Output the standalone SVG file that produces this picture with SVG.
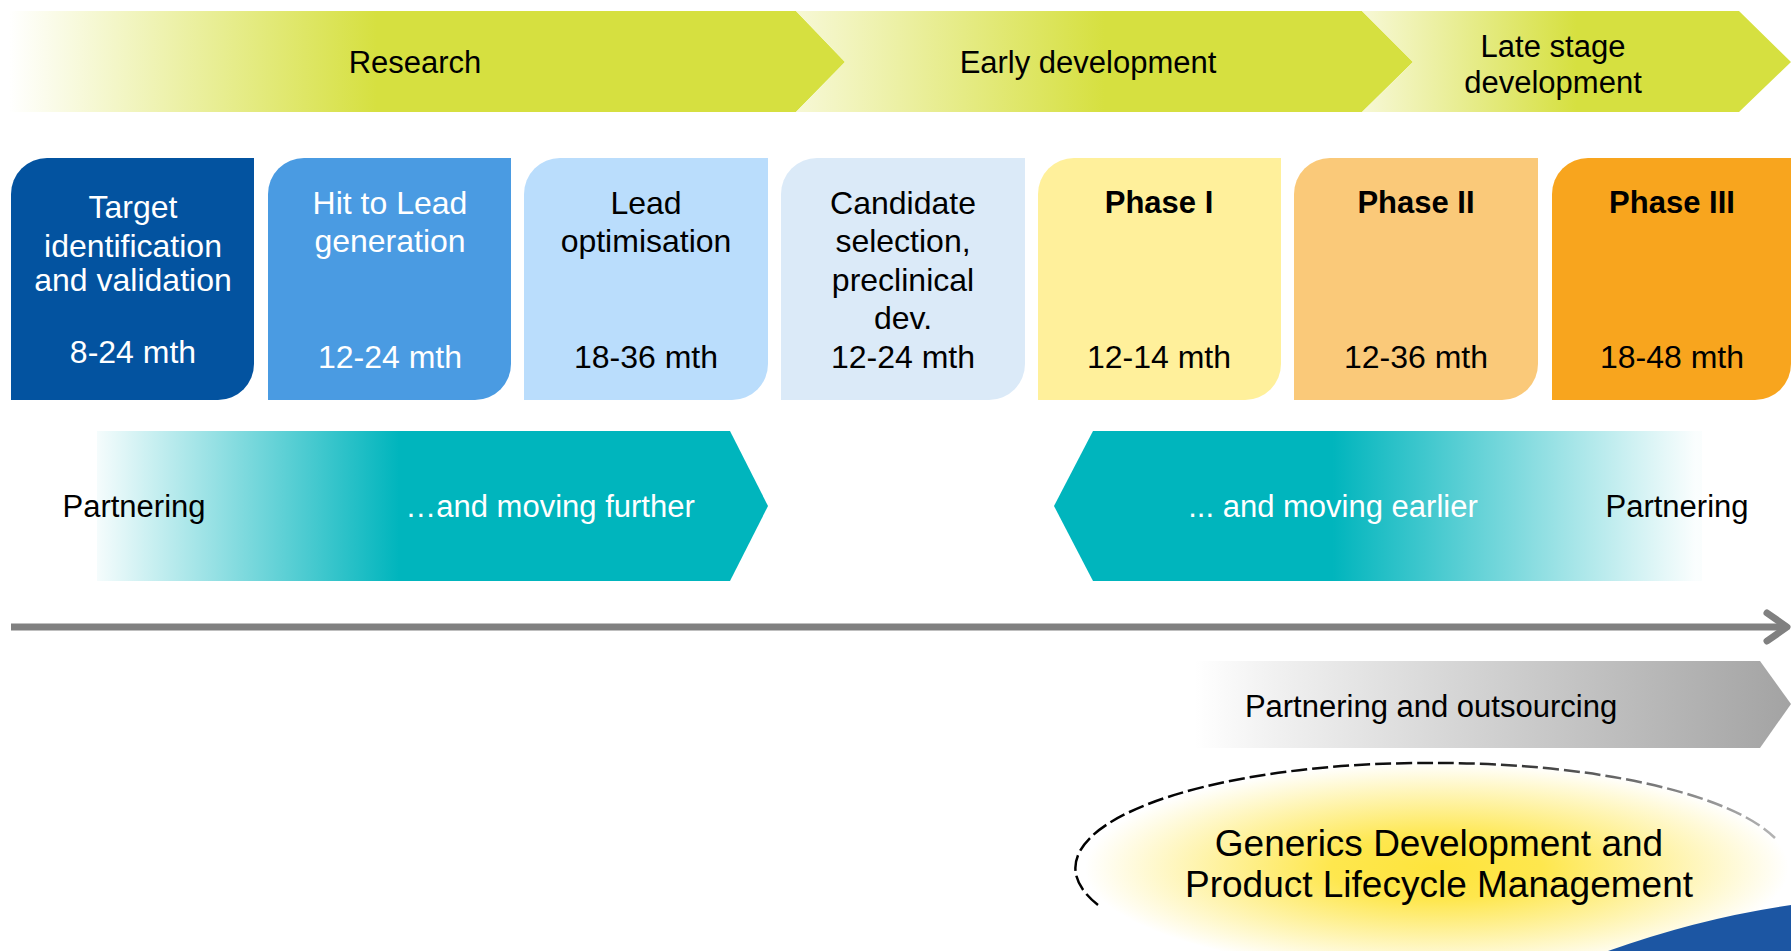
<svg xmlns="http://www.w3.org/2000/svg" width="1791" height="951" viewBox="0 0 1791 951">
<style>
text{font-family:"Liberation Sans",Arial,sans-serif;text-anchor:middle}
.t31{font-size:31px}
.b32{font-size:32px}
.bold{font-weight:bold}
.w{fill:#fff}
.k{fill:#000}
</style>
<defs>
<linearGradient id="gRes" gradientUnits="userSpaceOnUse" x1="9" y1="0" x2="845" y2="0">
<stop offset="0" stop-color="#ffffff"/><stop offset="0.44" stop-color="#D6E040"/><stop offset="1" stop-color="#D6E040"/>
</linearGradient>
<linearGradient id="gEarly" gradientUnits="userSpaceOnUse" x1="796" y1="0" x2="1413" y2="0">
<stop offset="0" stop-color="#F7F8D6"/><stop offset="0.5" stop-color="#D6E040"/><stop offset="1" stop-color="#D6E040"/>
</linearGradient>
<linearGradient id="gLate" gradientUnits="userSpaceOnUse" x1="1362" y1="0" x2="1791" y2="0">
<stop offset="0" stop-color="#F7F8D6"/><stop offset="0.5" stop-color="#D6E040"/><stop offset="1" stop-color="#D6E040"/>
</linearGradient>
<linearGradient id="gTealL" gradientUnits="userSpaceOnUse" x1="97" y1="0" x2="768" y2="0">
<stop offset="0" stop-color="#00B5BD" stop-opacity="0.04"/><stop offset="0.45" stop-color="#00B5BD"/><stop offset="1" stop-color="#00B5BD"/>
</linearGradient>
<linearGradient id="gTealR" gradientUnits="userSpaceOnUse" x1="1054" y1="0" x2="1702" y2="0">
<stop offset="0" stop-color="#00B5BD"/><stop offset="0.43" stop-color="#00B5BD"/><stop offset="0.99" stop-color="#00B5BD" stop-opacity="0.02"/>
</linearGradient>
<linearGradient id="gGray" gradientUnits="userSpaceOnUse" x1="1195" y1="0" x2="1791" y2="0">
<stop offset="0" stop-color="#ffffff"/><stop offset="0.12" stop-color="#F2F2F2"/><stop offset="1" stop-color="#A3A3A3"/>
</linearGradient>
<radialGradient id="gEll" gradientUnits="userSpaceOnUse" cx="1437" cy="868" r="352" gradientTransform="translate(1437 868) scale(1 0.3) translate(-1437 -868)">
<stop offset="0" stop-color="#FEE43C"/><stop offset="0.3" stop-color="#FEE74E"/><stop offset="1" stop-color="#ffffff"/>
</radialGradient>
<linearGradient id="gEllStroke" gradientUnits="userSpaceOnUse" x1="1085" y1="0" x2="1791" y2="0">
<stop offset="0" stop-color="#000"/><stop offset="0.5" stop-color="#111"/><stop offset="1" stop-color="#bbb"/>
</linearGradient>
</defs>

<g id="research">
<polygon points="9,11 796,11 845,62 796,112 9,112" fill="url(#gRes)"/>
<text class="t31 k" x="415" y="73">Research</text>
</g>
<g id="early-development">
<polygon points="796,11 1362,11 1413,62 1362,112 796,112 845,62" fill="url(#gEarly)"/>
<text class="t31 k" x="1088" y="73">Early development</text>
</g>
<g id="late-development">
<polygon points="1362,11 1739,11 1791,62 1739,112 1362,112 1413,62" fill="url(#gLate)"/>
<text class="t31 k" x="1553" y="57">Late stage</text>
<text class="t31 k" x="1553" y="93">development</text>
</g>

<g id="target">
<path d="M11,194 A36,36 0 0 1 47,158 H254 V364 A36,36 0 0 1 218,400 H11 Z" fill="#0353A0"/>
<text class="b32 w" x="133" y="218">Target</text>
<text class="b32 w" x="133" y="257">identification</text>
<text class="b32 w" x="133" y="291">and validation</text>
<text class="b32 w" x="133" y="363">8-24 mth</text>
</g>
<g id="hit-to-lead">
<path d="M268,194 A36,36 0 0 1 304,158 H511 V364 A36,36 0 0 1 475,400 H268 Z" fill="#4A9BE2"/>
<text class="b32 w" x="390" y="214">Hit to Lead</text>
<text class="b32 w" x="390" y="252">generation</text>
<text class="b32 w" x="390" y="368">12-24 mth</text>
</g>
<g id="lead-optimisation">
<path d="M524,194 A36,36 0 0 1 560,158 H768 V364 A36,36 0 0 1 732,400 H524 Z" fill="#BADDFC"/>
<text class="b32 k" x="646" y="214">Lead</text>
<text class="b32 k" x="646" y="252">optimisation</text>
<text class="b32 k" x="646" y="368">18-36 mth</text>
</g>
<g id="candidate-selection">
<path d="M781,194 A36,36 0 0 1 817,158 H1025 V364 A36,36 0 0 1 989,400 H781 Z" fill="#DBEAF8"/>
<text class="b32 k" x="903" y="214">Candidate</text>
<text class="b32 k" x="903" y="252">selection,</text>
<text class="b32 k" x="903" y="291">preclinical</text>
<text class="b32 k" x="903" y="329">dev.</text>
<text class="b32 k" x="903" y="368">12-24 mth</text>
</g>
<g id="phase-1">
<path d="M1038,194 A36,36 0 0 1 1074,158 H1281 V364 A36,36 0 0 1 1245,400 H1038 Z" fill="#FFF09B"/>
<text class="t31 k bold" x="1159" y="213">Phase I</text>
<text class="b32 k" x="1159" y="368">12-14 mth</text>
</g>
<g id="phase-2">
<path d="M1294,194 A36,36 0 0 1 1330,158 H1538 V364 A36,36 0 0 1 1502,400 H1294 Z" fill="#FAC979"/>
<text class="t31 k bold" x="1416" y="213">Phase II</text>
<text class="b32 k" x="1416" y="368">12-36 mth</text>
</g>
<g id="phase-3">
<path d="M1552,194 A36,36 0 0 1 1588,158 H1791 V364 A36,36 0 0 1 1755,400 H1552 Z" fill="#F8A51E"/>
<text class="t31 k bold" x="1672" y="213">Phase III</text>
<text class="b32 k" x="1672" y="368">18-48 mth</text>
</g>

<g id="moving-further">
<polygon points="97,431 730,431 768,506 730,581 97,581" fill="url(#gTealL)"/>
<text class="t31 k" x="134" y="517">Partnering</text>
<text class="t31 w" x="550" y="517">…and moving further</text>
</g>
<g id="moving-earlier">
<polygon points="1054,506 1093,431 1702,431 1702,581 1093,581" fill="url(#gTealR)"/>
<text class="t31 w" x="1333" y="517">... and moving earlier</text>
<text class="t31 k" x="1677" y="517">Partnering</text>
</g>

<g id="connectors">
<line x1="11" y1="627" x2="1786" y2="627" stroke="#808080" stroke-width="7"/>
<polyline points="1767,613 1787,627 1767,641" fill="none" stroke="#808080" stroke-width="7" stroke-linecap="round" stroke-linejoin="round"/>
</g>

<g id="partnering-outsourcing">
<polygon points="1195,661 1760,661 1791,704 1760,748 1195,748" fill="url(#gGray)"/>
<text class="t31 k" x="1431" y="717">Partnering and outsourcing</text>
</g>

<g id="generics">
<ellipse cx="1437" cy="868" rx="352" ry="105" fill="url(#gEll)"/>
<path d="M1098,905 A352,105 0 0 1 1437,763 A352,105 0 0 1 1775,838" fill="none" stroke="url(#gEllStroke)" stroke-width="2.5" stroke-dasharray="16 5"/>
<text x="1439" y="856" style="font-size:37px" class="k">Generics Development and</text>
<text x="1439" y="897" style="font-size:37px" class="k">Product Lifecycle Management</text>
</g>

<g id="swoosh">
<path d="M1608,951 Q1700,918 1791,905 L1791,951 Z" fill="#1C56A3"/>
</g>
</svg>
